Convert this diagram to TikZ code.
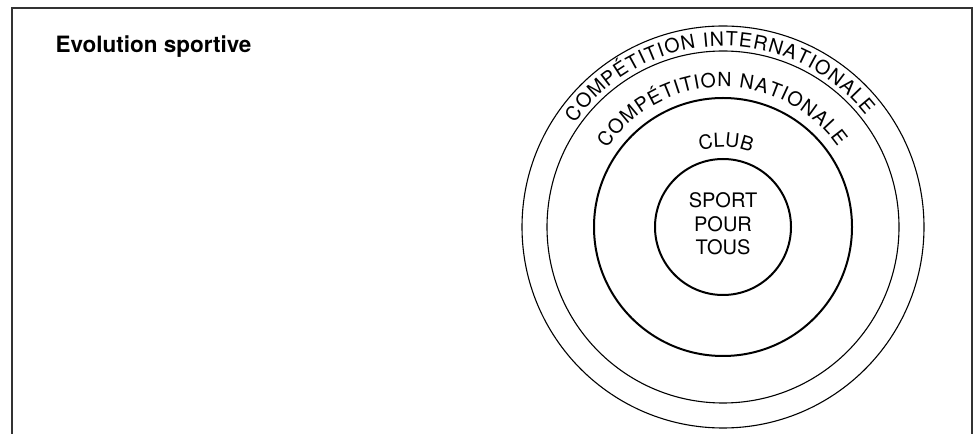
\documentclass[tikz,border=0pt]{standalone}
\usepackage{fontspec}
\setmainfont{TeX Gyre Heros}
\usetikzlibrary{positioning, decorations.text}

\begin{document}
\begin{tikzpicture}[
    x=1pt, y=1pt,
    ring/.style={draw, circle, line width=2pt, inner sep=0pt},
    thinring/.style={draw, circle, line width=1.1pt, inner sep=0pt},
    lbl/.style={font=\fontsize{20}{23.5}\selectfont, align=center},
    arctext/.style={decorate, decoration={text along path, text align={#1}}}
]
\useasboundingbox (0,0) rectangle (978,434);

% Frame
\draw[line width=1.2pt, black!80] (12,0) -- (12,426) -- (972,426) -- (972,0);

% Title
\node[anchor=base west, font=\fontsize{22.5}{24}\selectfont\bfseries] (title) at (52,381) {Evolution sportive};

% Rings
\coordinate (centre) at (723,207);
\node[thinring, minimum size=402pt] (inter) at (centre) {};
\node[thinring, minimum size=352pt] (nat) at (centre) {};
\node[ring, minimum size=258pt] (club) at (centre) {};
\node[ring, minimum size=136pt] (sport) at (centre) {};
\node[lbl, yshift=3pt] (sporttxt) at (sport.center) {SPORT\\POUR\\TOUS};

% Curved labels
\path[arctext={fit to path}, decoration={text={|\fontsize{19.5}{20}\selectfont|COMPÉTITION INTERNATIONALE}}]
    (centre) ++(145:181) arc[start angle=145, end angle=38, radius=181];
\path[arctext={fit to path}, decoration={text={|\fontsize{19.5}{20}\selectfont|COMPÉTITION NATIONALE}}]
    (centre) ++(146:140) arc[start angle=146, end angle=35, radius=140];
\path[arctext=center, decoration={text={|\fontsize{19.5}{20}\selectfont|CLUB}}]
    (centre) ++(160:80) arc[start angle=160, end angle=16, radius=80];

\end{tikzpicture}
\end{document}
